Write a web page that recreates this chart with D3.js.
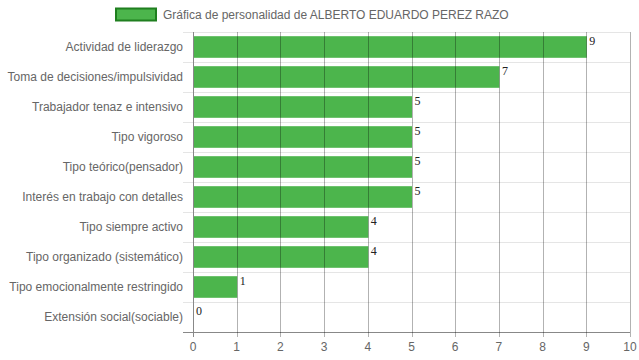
<!DOCTYPE html>
<html><head><meta charset="utf-8">
<script src="https://cdn.jsdelivr.net/npm/d3@7"></script>
<style>body{margin:0;background:#fff}svg{display:block}</style>
</head><body>
<svg id="c" width="639" height="360"></svg>
<script>
const categories = ["Actividad de liderazgo","Toma de decisiones/impulsividad","Trabajador tenaz e intensivo","Tipo vigoroso","Tipo teórico(pensador)","Interés en trabajo con detalles","Tipo siempre activo","Tipo organizado (sistemático)","Tipo emocionalmente restringido","Extensión social(sociable)"];
const values = [9,7,5,5,5,5,4,4,1,0];
const xTicks = [0,1,2,3,4,5,6,7,8,9,10];
const legendLabel = "Gráfica de personalidad de ALBERTO EDUARDO PEREZ RAZO";

const svg = d3.select("#c");
const m = {left:193, right:630, top:32, bottom:332};
const x = d3.scaleLinear().domain([0,10]).range([m.left, m.right]);
const y = d3.scaleBand().domain(categories).range([m.top, m.bottom]).paddingInner(0.28).paddingOuter(0.14);
const yRow = d3.scaleBand().domain(categories).range([m.top, m.bottom]);
const font = "Liberation Sans, Arial, sans-serif";

// bars
svg.append("g").selectAll("rect").data(values).join("rect")
  .attr("x", x(0)+0.5).attr("y", (d,i)=>y(categories[i]))
  .attr("width", d=>Math.max(0,x(d)-x(0))).attr("height", y.bandwidth())
  .attr("fill", "#4cb54c");

// horizontal grid (row boundaries)
const hl = categories.map(c=>yRow(c)).concat([m.bottom]);
svg.append("g").selectAll("line").data(hl).join("line")
  .attr("x1", m.left-10).attr("x2", m.right)
  .attr("y1", d=>Math.round(d)+0.5).attr("y2", d=>Math.round(d)+0.5)
  .attr("stroke", (d,i)=> i===hl.length-1 ? "#888" : "rgba(0,0,0,0.1)");
// vertical grid
svg.append("g").selectAll("line").data(xTicks).join("line")
  .attr("x1", d=>Math.round(x(d))+0.5).attr("x2", d=>Math.round(x(d))+0.5)
  .attr("y1", m.top).attr("y2", m.bottom+5)
  .attr("stroke", (d,i)=> i===0 ? "#888" : "rgba(0,0,0,0.3)").attr("stroke-width",1);

// value labels
svg.append("g").selectAll("text").data(values).join("text")
  .attr("x", d=>x(d)+3).attr("y", (d,i)=>y(categories[i])+9)
  .attr("font-family","Liberation Serif, Times New Roman, serif").attr("font-size",12).attr("fill","#222")
  .text(d=>d);

// y labels
svg.append("g").selectAll("text").data(categories).join("text")
  .attr("x", 183).attr("y", d=>yRow(d)+yRow.bandwidth()/2+4)
  .attr("text-anchor","end").attr("font-family",font).attr("font-size",12).attr("fill","#666")
  .text(d=>d);

// x labels
svg.append("g").selectAll("text").data(xTicks).join("text")
  .attr("x", d=>x(d)).attr("y", 351)
  .attr("text-anchor","middle").attr("font-family",font).attr("font-size",12).attr("fill","#666")
  .text(d=>d);

// legend
svg.append("rect").attr("x",116).attr("y",8.5).attr("width",40).attr("height",12)
  .attr("fill","#4cb54c").attr("stroke","#1f7f1f").attr("stroke-width",2);
svg.append("text").attr("x",163).attr("y",19).attr("font-family",font).attr("font-size",12).attr("fill","#666").text(legendLabel);
</script>
</body></html>
